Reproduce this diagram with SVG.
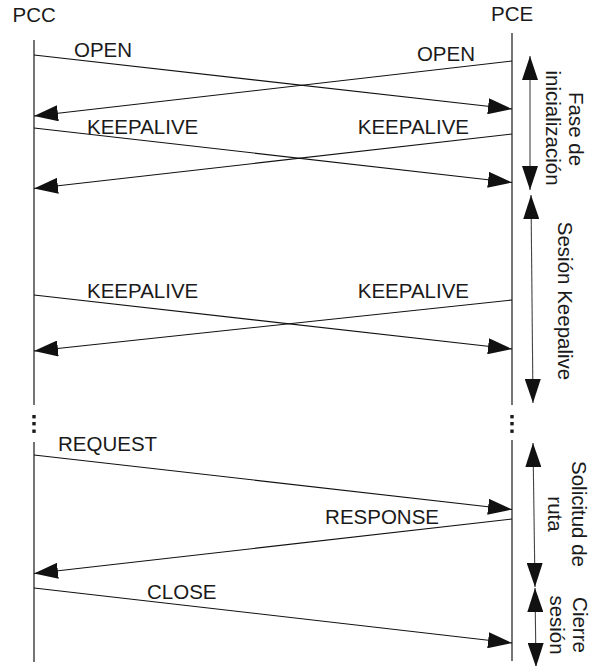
<svg xmlns="http://www.w3.org/2000/svg" width="597" height="666" viewBox="0 0 597 666">
  <style>
    text { font-family: "Liberation Sans", Arial, sans-serif; font-size: 20.5px; fill: #1a1a1a; }
    .life { stroke: #2a2a2a; stroke-width: 1.3; fill: none; }
    .msg { stroke: #111; stroke-width: 1.1; fill: none; marker-end: url(#ah); }
    .span { stroke: #444; stroke-width: 1.1; fill: none; marker-start: url(#ah); marker-end: url(#ah); }
    .dot { fill: #1a1a1a; }
  </style>
  <defs>
    <marker id="ah" viewBox="0 0 24 16" markerWidth="24" markerHeight="16" refX="24" refY="8" orient="auto-start-reverse" markerUnits="userSpaceOnUse">
      <path d="M0,0 L24,8 L0,16 z" fill="#111"/>
    </marker>
  </defs>

  <rect width="597" height="666" fill="#fff"/>

  <!-- PCC lifeline -->
  <g id="pcc">
    <text x="12.5" y="22">PCC</text>
    <line class="life" x1="34" y1="40" x2="34" y2="405"/>
    <rect class="dot" x="32.3" y="415" width="3.4" height="3.4"/>
    <rect class="dot" x="32.3" y="422" width="3.4" height="3.4"/>
    <rect class="dot" x="32.3" y="429.5" width="3.4" height="3.4"/>
    <line class="life" x1="34" y1="442" x2="34" y2="662"/>
  </g>

  <!-- PCE lifeline -->
  <g id="pce">
    <text x="491" y="21">PCE</text>
    <line class="life" x1="512" y1="33" x2="512" y2="405"/>
    <rect class="dot" x="510.3" y="415" width="3.4" height="3.4"/>
    <rect class="dot" x="510.3" y="422" width="3.4" height="3.4"/>
    <rect class="dot" x="510.3" y="429.5" width="3.4" height="3.4"/>
    <line class="life" x1="512" y1="440" x2="512" y2="661"/>
  </g>

  <!-- messages -->
  <g id="connectors">
    <line class="msg" x1="34" y1="55" x2="512" y2="109"/>
    <line class="msg" x1="512" y1="61" x2="34" y2="116"/>
    <line class="msg" x1="34" y1="128" x2="512" y2="182.5"/>
    <line class="msg" x1="512" y1="134" x2="34" y2="188.5"/>
    <line class="msg" x1="34" y1="295" x2="512" y2="349"/>
    <line class="msg" x1="512" y1="300" x2="34" y2="351"/>
    <line class="msg" x1="34" y1="455" x2="512" y2="509.5"/>
    <line class="msg" x1="512" y1="519" x2="34" y2="573.5"/>
    <line class="msg" x1="34" y1="588" x2="512" y2="643"/>

    <!-- phase spans -->
    <line class="span" x1="530" y1="56" x2="530" y2="190"/>
    <line class="span" x1="531" y1="195" x2="533" y2="403"/>
    <line class="span" x1="533" y1="443" x2="535" y2="587"/>
    <line class="span" x1="535" y1="588" x2="536" y2="667"/>
  </g>

  <!-- message labels -->
  <g id="labels">
    <text x="74" y="57">OPEN</text>
    <text x="475" y="61" text-anchor="end">OPEN</text>
    <text x="87" y="134">KEEPALIVE</text>
    <text x="469" y="134" text-anchor="end">KEEPALIVE</text>
    <text x="87" y="298">KEEPALIVE</text>
    <text x="469" y="298" text-anchor="end">KEEPALIVE</text>
    <text x="58" y="451">REQUEST</text>
    <text x="439" y="524" text-anchor="end">RESPONSE</text>
    <text x="147" y="599">CLOSE</text>
  </g>

  <!-- phase names -->
  <g id="phases" text-anchor="middle">
    <text transform="translate(569,129) rotate(90)">Fase de</text>
    <text transform="translate(546,128) rotate(90)">inicialización</text>
    <text transform="translate(558,301) rotate(90)">Sesión Keepalive</text>
    <text transform="translate(572,514) rotate(90)">Solicitud de</text>
    <text transform="translate(548,514) rotate(90)">ruta</text>
    <text transform="translate(573,625) rotate(90)">Cierre</text>
    <text transform="translate(550,625) rotate(90)">sesión</text>
  </g>
</svg>
